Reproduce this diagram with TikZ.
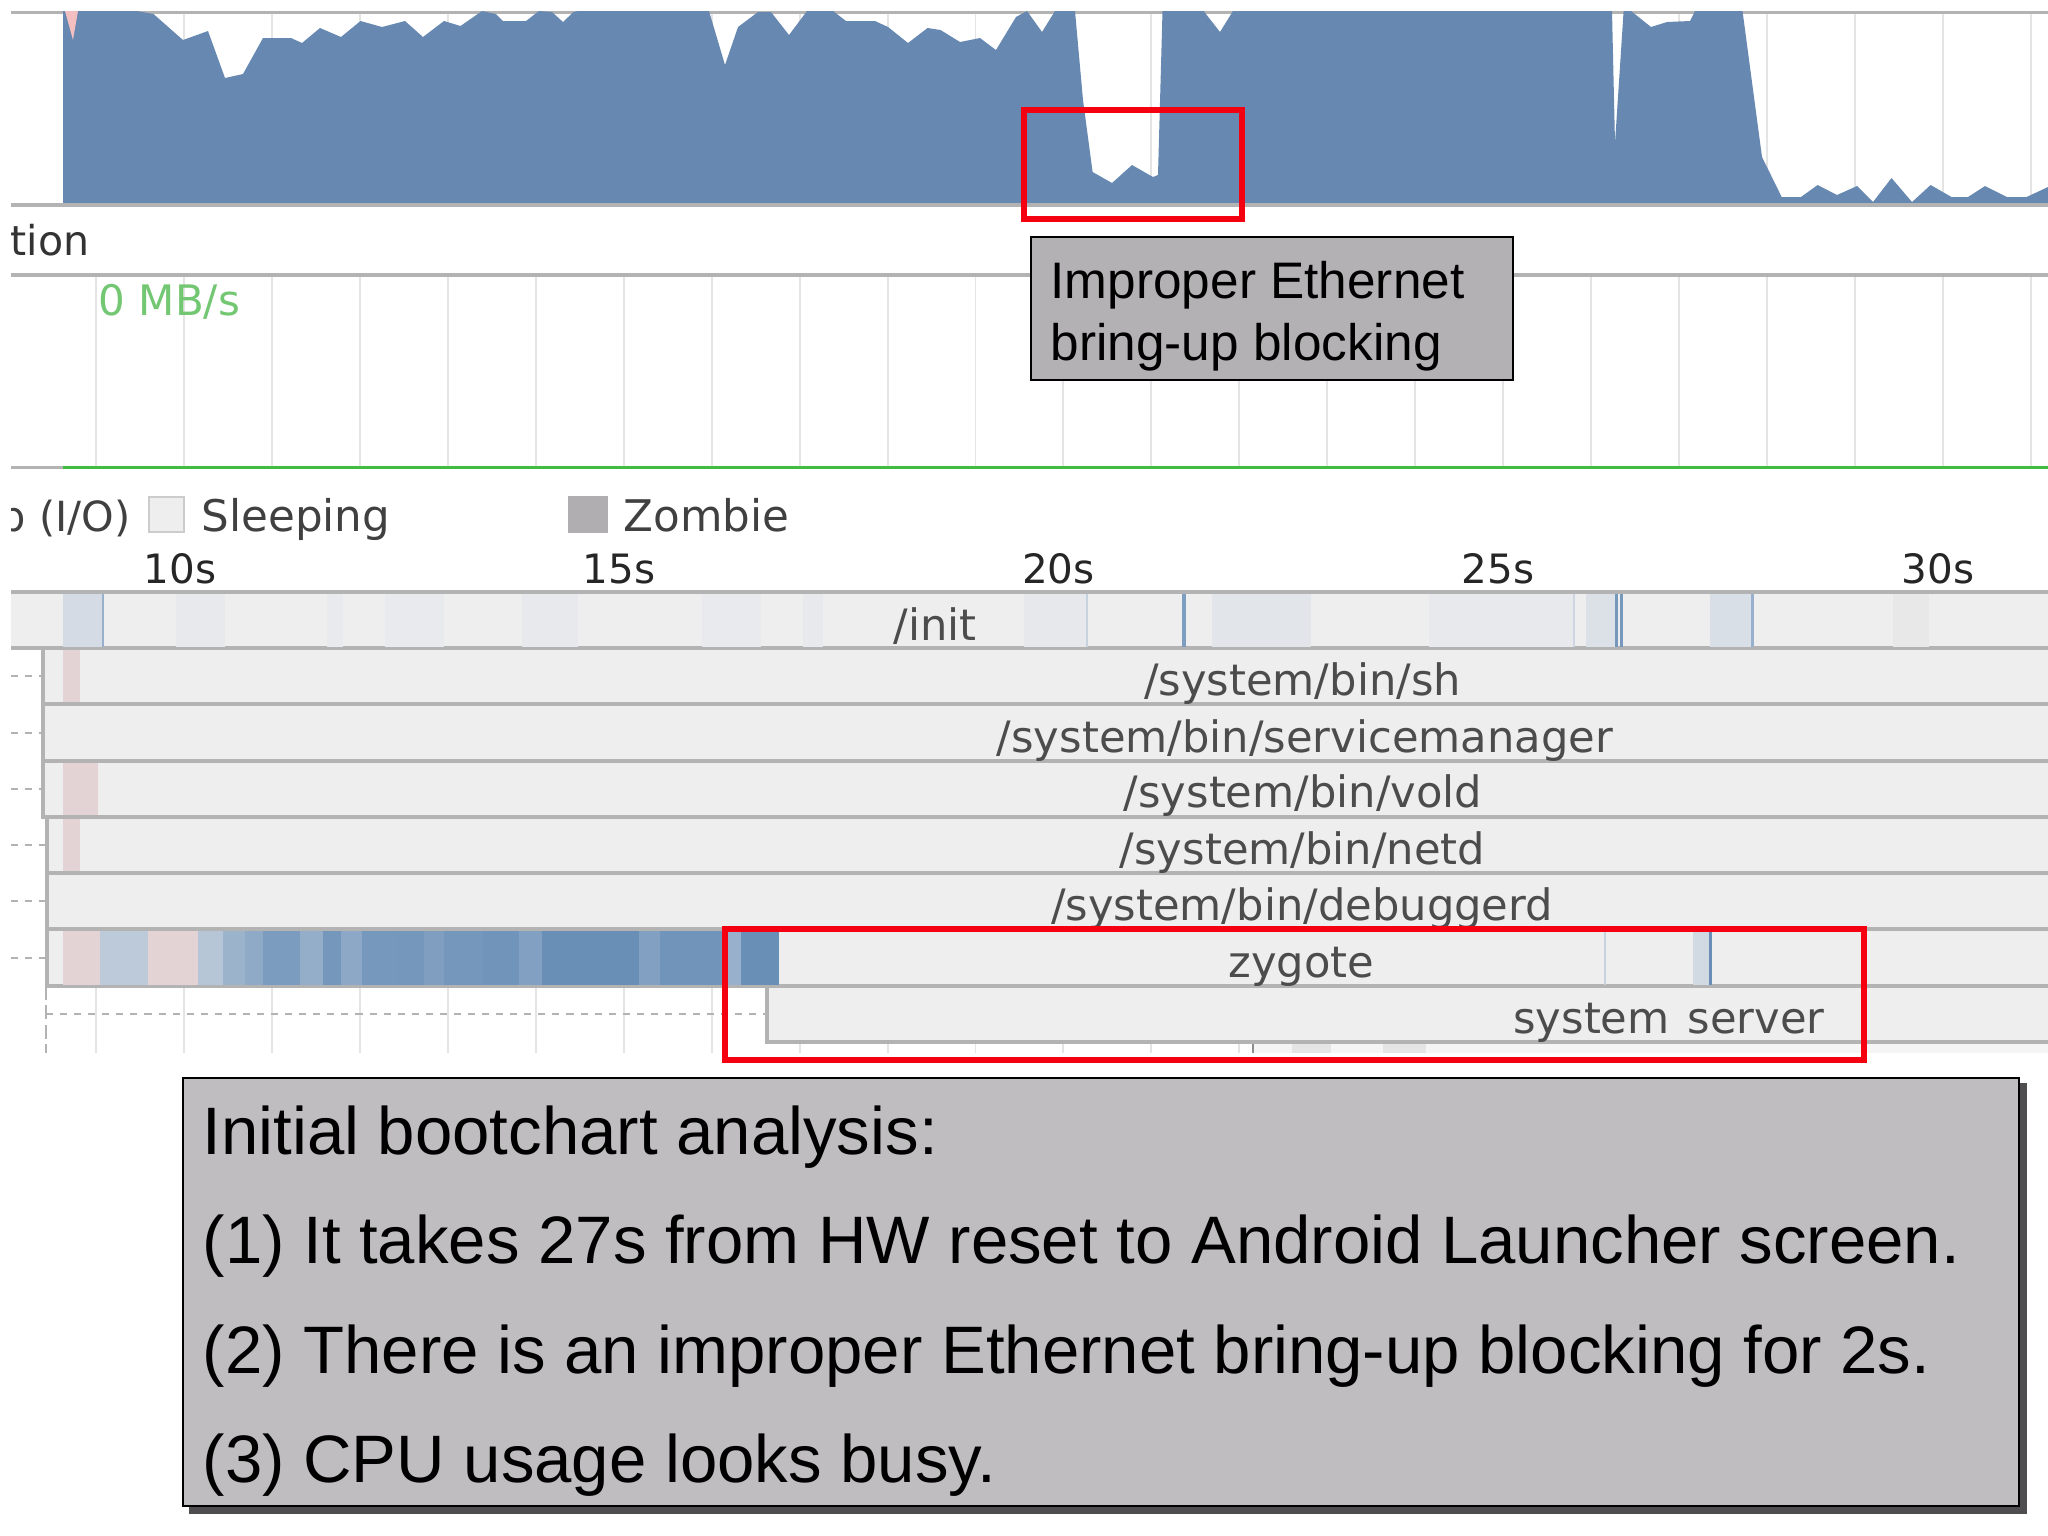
\documentclass[tikz,border=0pt]{standalone}
\usepackage{fontspec}
\setmainfont{Liberation Sans}
\newfontfamily\chartfont{DejaVu Sans}
\definecolor{cpublue}{HTML}{6688B1}
\definecolor{procblue}{HTML}{6A8FB7}
\definecolor{procpink}{HTML}{E3D3D5}
\definecolor{rowgrey}{HTML}{EEEEEF}
\definecolor{rulegrey}{HTML}{B4B3B3}
\definecolor{gridgrey}{HTML}{E4E4E4}
\definecolor{redmark}{HTML}{F50010}
\definecolor{calloutgrey}{HTML}{B3B1B3}
\definecolor{summarygrey}{HTML}{BFBDC0}
\definecolor{shadowgrey}{HTML}{4F4D4F}
\tikzset{
	gridline/.style={line width=0.55pt, color=gridgrey},
	ruleline/.style={line width=1pt, color=rulegrey},
	rowbox/.style={line width=0.9pt, draw=rulegrey, fill=rowgrey},
	redbox/.style={line width=1.7pt, draw=redmark},
	dotline/.style={line width=0.6pt, color=rulegrey, dash pattern=on 2pt off 2pt},
	proclabel/.style={anchor=base, inner sep=0pt, text=black!70, font=\chartfont\fontsize{12.3}{14}\selectfont},
	ticklabel/.style={anchor=base, inner sep=0pt, text=black!85, font=\chartfont\fontsize{11.5}{14}\selectfont},
	legendlabel/.style={anchor=base west, inner sep=0pt, text=black!75, font=\chartfont\fontsize{12.4}{14}\selectfont},
	calloutline/.style={anchor=base west, inner sep=0pt, font=\fontsize{14.6}{17}\selectfont},
	summaryline/.style={anchor=base west, inner sep=0pt, font=\fontsize{19.09}{23}\selectfont}
}

\begin{document}
\begin{tikzpicture}[x=0.01cm, y=-0.01cm]
	\useasboundingbox (0, 0) rectangle (2048, 1535);
	
	\begin{scope}
		\clip (11, 11) rectangle (2048, 1053);
		
		%%%%% CPU %%%%%
		\foreach \k in {0,...,22} \draw[gridline] ({96+87.95*\k}, 12) -- ({96+87.95*\k}, 205);
		\draw[ruleline] (11, 12) -- (2048, 12);
		\fill[cpublue] (63, 205) -- (63, 11) -- (137, 11) -- (153.5, 14) -- (183, 40) -- (208, 31) -- (225, 78) -- (243, 74) -- (263, 38) -- (291, 38) -- (302, 43) -- (320, 28) -- (341, 37) -- (360.5, 21) -- (382, 27) -- (405, 21) -- (423, 37) -- (444, 21) -- (460.5, 26) -- (482, 11) -- (496, 14) -- (503, 21) -- (526, 21) -- (539, 11) -- (552, 12) -- (563, 22) -- (573.5, 12) -- (578, 11) -- (709, 11) -- (725, 65) -- (738, 27) -- (758, 12) -- (771, 12) -- (789, 35) -- (807, 11) -- (833, 11) -- (846, 21) -- (875, 21) -- (888, 27) -- (908, 43) -- (927.5, 28) -- (940.5, 30) -- (960, 42) -- (980, 38) -- (996, 50) -- (1016, 17) -- (1027, 11) -- (1042, 32) -- (1055, 11) -- (1075, 11) -- (1083, 100) -- (1092.6, 172) -- (1112, 183) -- (1132, 165) -- (1153, 177) -- (1158, 175) -- (1162.5, 11) -- (1203.6, 11) -- (1220, 32) -- (1233, 11) -- (1612, 11) -- (1615, 143) -- (1623.6, 11) -- (1631, 11) -- (1651, 27) -- (1667, 22) -- (1690, 21) -- (1695, 11) -- (1742.5, 11) -- (1762, 157) -- (1781.7, 197) -- (1801, 197) -- (1817.6, 185) -- (1837, 195) -- (1857, 186) -- (1873, 202) -- (1891.5, 178) -- (1912, 202) -- (1930.6, 185) -- (1951.5, 197) -- (1968, 197) -- (1985, 186) -- (2007, 197) -- (2026.6, 197) -- (2048, 187) -- (2048, 205) -- cycle;
		\fill[procpink!70!red!60!white] (65, 11) -- (73, 40) -- (78, 11) -- cycle;
		\draw[ruleline, line width=1.1pt] (11, 205) -- (2048, 205);
		
		\node[anchor=base west, inner sep=0pt, text=black!80, font=\chartfont\fontsize{11.7}{14}\selectfont] (diskword) at (10, 255) {tion};
		
		%%%%% DISK %%%%%
		\foreach \k in {0,...,22} \draw[gridline] ({96+87.95*\k}, 275) -- ({96+87.95*\k}, 466);
		\draw[ruleline] (11, 275) -- (2048, 275);
		\node[anchor=base west, inner sep=0pt, text=green!60!black!55!white, font=\chartfont\fontsize{11.95}{14}\selectfont] (diskrate) at (98, 315) {0 MB/s};
		\draw[ruleline] (11, 467.5) -- (63, 467.5);
		\draw[line width=0.9pt, color=green!65!black!75!white] (63, 467.5) -- (2048, 467.5);
		
		%%%%% LEGEND %%%%%
		\node[anchor=base east, inner sep=0pt, text=black!75, font=\chartfont\fontsize{11.8}{14}\selectfont] (legendio) at (131, 531) {p (I/O)};
		\draw[line width=0.6pt, draw=black!20, fill=rowgrey] (149, 497) rectangle (184, 532);
		\node[legendlabel] (legendsleep) at (201, 531) {Sleeping};
		\fill[summarygrey!92!black] (568, 496) rectangle (607.5, 533);
		\node[legendlabel] (legendzombie) at (623, 531) {Zombie};
		\node[ticklabel] (tickten) at (180, 583) {10s};
		\node[ticklabel] (tickfifteen) at (619, 583) {15s};
		\node[ticklabel] (ticktwenty) at (1058.5, 583) {20s};
		\node[ticklabel] (ticktwentyfive) at (1498, 583) {25s};
		\node[ticklabel] (ticktthirty) at (1938, 583) {30s};
		
		%%%%% LOWER GRID %%%%%
		\foreach \k in {0,...,13} \draw[gridline] ({96+87.95*\k}, 986) -- ({96+87.95*\k}, 1053);
		\fill[black!4] (1253, 1042) rectangle (2048, 1053);
		\fill[black!10] (1292, 1044) rectangle (1331, 1053);
		\fill[black!10] (1383, 1044) rectangle (1426, 1053);
		\draw[line width=0.5pt, color=black!45] (1253, 1042) -- (1253, 1053);
		\draw[dotline, dash pattern=on 4pt off 1.5pt] (46, 986) -- (46, 1053);
		\draw[dotline] (46, 1014) -- (767, 1014);
		\draw[dotline] (11, 676) -- (43, 676);
		\draw[dotline] (11, 733) -- (43, 733);
		\draw[dotline] (11, 789) -- (43, 789);
		\draw[dotline] (11, 845) -- (47, 845);
		\draw[dotline] (11, 901) -- (47, 901);
		\draw[dotline] (11, 958) -- (47, 958);
		
		%%%%% PROCESSES %%%%%
		\draw[rowbox] (-5, 592) rectangle (2060, 648);
		\draw[rowbox] (767, 986) rectangle (2060, 1042);
		\draw[rowbox] (47, 929) rectangle (2060, 986);
		\draw[rowbox] (47, 873) rectangle (2060, 929);
		\draw[rowbox] (47, 817) rectangle (2060, 873);
		\draw[rowbox] (43, 761) rectangle (2060, 817);
		\draw[rowbox] (43, 704) rectangle (2060, 761);
		\draw[rowbox] (43, 648) rectangle (2060, 704);
		
		\fill[procblue!20!rowgrey] (63, 594) rectangle (102, 646.5);
		\fill[procblue!5!rowgrey] (176, 594) rectangle (225, 646.5);
		\fill[procblue!4!rowgrey] (327, 594) rectangle (343, 646.5);
		\fill[procblue!4!rowgrey] (385, 594) rectangle (444, 646.5);
		\fill[procblue!5!rowgrey] (522, 594) rectangle (578, 646.5);
		\fill[procblue!4!rowgrey] (702, 594) rectangle (761, 646.5);
		\fill[procblue!5!rowgrey] (803, 594) rectangle (823, 646.5);
		\fill[procblue!6!rowgrey] (1024, 594) rectangle (1086, 646.5);
		\fill[procblue!9!rowgrey] (1212, 594) rectangle (1311, 646.5);
		\fill[procblue!5!rowgrey] (1429, 594) rectangle (1573, 646.5);
		\fill[procblue!14!rowgrey] (1586, 594) rectangle (1615, 646.5);
		\fill[procblue!16!rowgrey] (1710, 594) rectangle (1752, 646.5);
		\fill[black!9] (1893, 594) rectangle (1929, 646.5);
		\fill[procblue!65!rowgrey] (101.5, 594) rectangle (104, 646.5);
		\fill[procblue!30!rowgrey] (1086, 594) rectangle (1088, 646.5);
		\fill[procblue!85!rowgrey] (1182, 594) rectangle (1186, 646.5);
		\fill[procblue!25!rowgrey] (1573, 594) rectangle (1575, 646.5);
		\fill[procblue!90!rowgrey] (1615, 594) rectangle (1618, 646.5);
		\fill[procblue!90!rowgrey] (1620, 594) rectangle (1623, 646.5);
		\fill[procblue!65!rowgrey] (1751, 594) rectangle (1753.5, 646.5);
		
		\fill[procpink] (63, 650) rectangle (80, 702);
		\fill[procpink] (63, 763) rectangle (98, 815);
		\fill[procpink] (63, 819) rectangle (80, 871);
		
		\fill[procpink] (63, 931) rectangle (100, 984.5);
		\fill[procblue!38!rowgrey] (100, 931) rectangle (148, 984.5);
		\fill[procpink] (148, 931) rectangle (198, 984.5);
		\fill[procblue!42!rowgrey] (198, 931) rectangle (223, 984.5);
		\fill[procblue!62!rowgrey] (223, 931) rectangle (245, 984.5);
		\fill[procblue!72!rowgrey] (245, 931) rectangle (263, 984.5);
		\fill[procblue!86!rowgrey] (263, 931) rectangle (300, 984.5);
		\fill[procblue!68!rowgrey] (300, 931) rectangle (323, 984.5);
		\fill[procblue!92!rowgrey] (323, 931) rectangle (341, 984.5);
		\fill[procblue!74!rowgrey] (341, 931) rectangle (362, 984.5);
		\fill[procblue!90!rowgrey] (362, 931) rectangle (398, 984.5);
		\fill[procblue!92!rowgrey] (398, 931) rectangle (424, 984.5);
		\fill[procblue!84!rowgrey] (424, 931) rectangle (444, 984.5);
		\fill[procblue!92!rowgrey] (444, 931) rectangle (483, 984.5);
		\fill[procblue!95!rowgrey] (483, 931) rectangle (519, 984.5);
		\fill[procblue!82!rowgrey] (519, 931) rectangle (542, 984.5);
		\fill[procblue] (542, 931) rectangle (639, 984.5);
		\fill[procblue!82!rowgrey] (639, 931) rectangle (660, 984.5);
		\fill[procblue!95!rowgrey] (660, 931) rectangle (728, 984.5);
		\fill[procblue!65!rowgrey] (728, 931) rectangle (741, 984.5);
		\fill[procblue] (741, 931) rectangle (779, 984.5);
		\fill[procblue!30!rowgrey] (1604, 931) rectangle (1606, 984.5);
		\fill[procblue!22!rowgrey] (1693, 931) rectangle (1709, 984.5);
		\fill[procblue] (1709, 931) rectangle (1711.5, 984.5);
		
		\node[proclabel] (procinit) at (935, 640) {/init};
		\node[proclabel] (procsh) at (1302.5, 695) {/system/bin/sh};
		\node[proclabel] (procsm) at (1305, 752) {/system/bin/servicemanager};
		\node[proclabel] (procvold) at (1303, 807) {/system/bin/vold};
		\node[proclabel] (procnetd) at (1302.5, 864) {/system/bin/netd};
		\node[proclabel] (procdebug) at (1302, 920) {/system/bin/debuggerd};
		\node[proclabel] (proczygote) at (1301.5, 977) {zygote};
		\node[proclabel] (procserver) at (1669, 1033) {system\hspace{0.1em} server};
	\end{scope}
	
	%%%%% MARKS %%%%%
	\draw[redbox] (1024, 110) rectangle (1242, 219);
	\draw[redbox] (725, 929) rectangle (1864, 1060);
	
	%%%%% CALLOUT %%%%%
	\draw[line width=0.6pt, draw=black, fill=calloutgrey] (1031, 237) rectangle (1513, 380);
	\node[calloutline] (calloutone) at (1050, 298) {Improper Ethernet};
	\node[calloutline] (callouttwo) at (1050, 360) {bring-up blocking};
	
	%%%%% SUMMARY %%%%%
	\fill[shadowgrey] (189, 1083) rectangle (2027, 1514);
	\draw[line width=0.6pt, draw=black, fill=summarygrey] (183, 1078) rectangle (2019, 1506);
	\node[summaryline] (summaryhead) at (202, 1154) {Initial bootchart analysis:};
	\node[summaryline] (summaryone) at (202, 1263.5) {(1) It takes 27s from HW reset to Android Launcher screen.};
	\node[summaryline] (summarytwo) at (202, 1373) {(2) There is an improper Ethernet bring-up blocking for 2s.};
	\node[summaryline] (summarythree) at (202, 1482.5) {(3) CPU usage looks busy.};
\end{tikzpicture}
\end{document}
